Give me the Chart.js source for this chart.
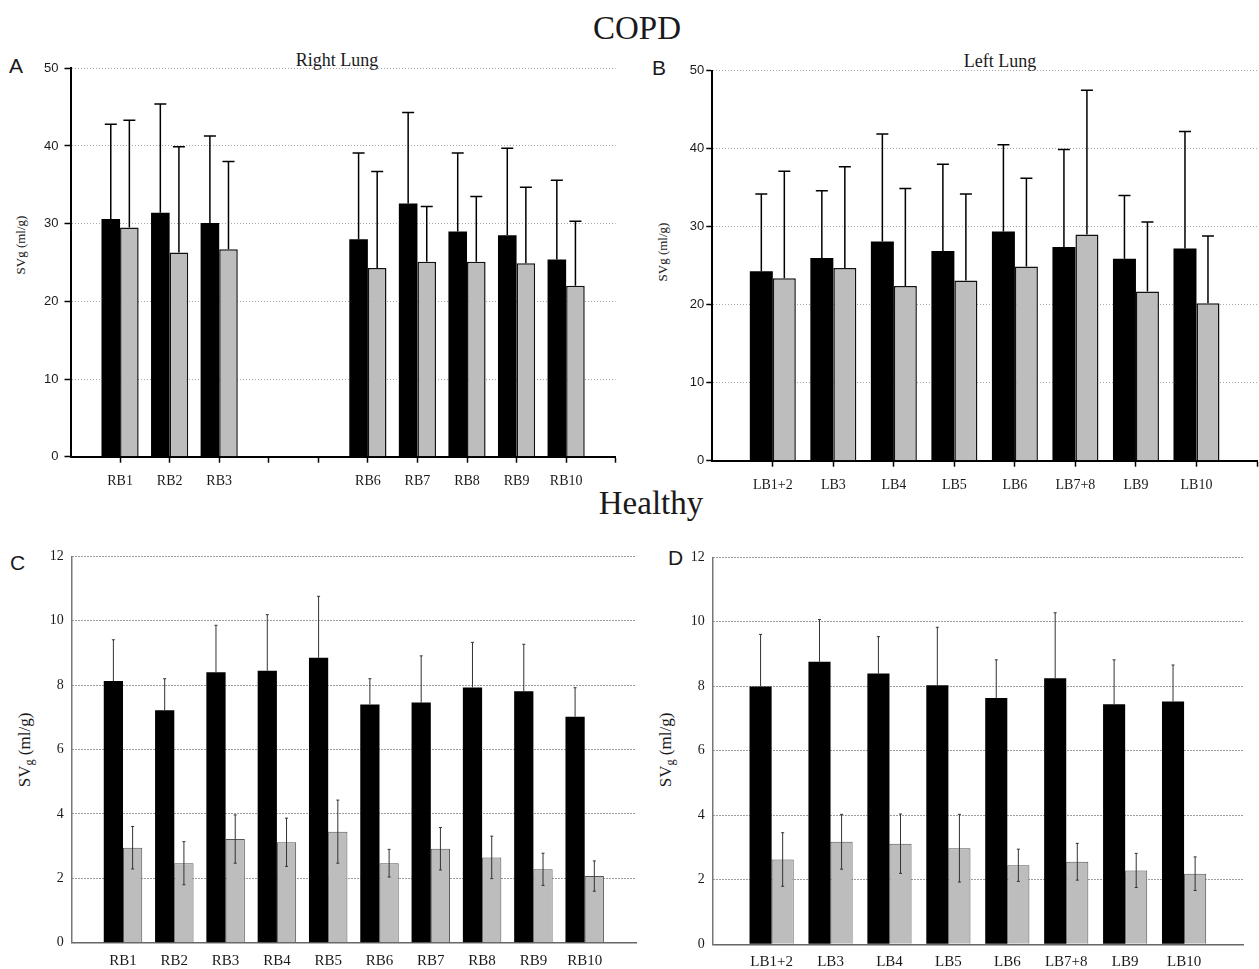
<!DOCTYPE html>
<html lang="en">
<head>
  <meta charset="UTF-8" />
  <title>SVg per bronchus - COPD and Healthy</title>
  <script src="https://cdn.jsdelivr.net/npm/chart.js"></script>
  <style>
    body { margin: 0; background: #fff; width: 1259px; height: 969px; position: relative; overflow: hidden;
           font-family: "Liberation Serif", serif; color: #1a1a1a; }
    canvas { position: absolute; }
    .t { position: absolute; line-height: 1; white-space: nowrap; }
    .big { font-size: 33px; transform: translateX(-50%); }
    .sub { font-size: 18px; transform: translateX(-50%); }
    .let { font-family: "Liberation Sans", sans-serif; font-size: 21px; }
    .ytitle { position: absolute; white-space: nowrap; line-height: 1; transform: translate(-50%, -50%) rotate(-90deg); }
    .ytitle sub { font-size: 72%; vertical-align: -0.3em; line-height: 0; }
  </style>
</head>
<body>
  <div class="t big" style="left:637px; top:12px;">COPD</div>
  <div class="t big" style="left:651px; top:487px;">Healthy</div>
  <div class="t sub" style="left:337px; top:51px;">Right Lung</div>
  <div class="t sub" style="left:1000px; top:52px;">Left Lung</div>
  <div class="t let" style="left:9px; top:55px;">A</div>
  <div class="t let" style="left:652px; top:57px;">B</div>
  <div class="t let" style="left:10px; top:552px;">C</div>
  <div class="t let" style="left:668px; top:547px;">D</div>
  <div class="ytitle" style="left:20px; top:245px; font-size:13px;">SVg (ml/g)</div>
  <div class="ytitle" style="left:662px; top:252px; font-size:13px;">SVg (ml/g)</div>
  <div class="ytitle" style="left:24px; top:750px; font-size:17px;">SV<sub>g</sub> (ml/g)</div>
  <div class="ytitle" style="left:665px; top:750px; font-size:17px;">SV<sub>g</sub> (ml/g)</div>

  <canvas id="panelA" width="630" height="450" style="left:0px; top:50px;"></canvas>
  <canvas id="panelB" width="627" height="450" style="left:640px; top:50px;"></canvas>
  <canvas id="panelC" width="640" height="429" style="left:0px; top:540px;"></canvas>
  <canvas id="panelD" width="619" height="429" style="left:640px; top:540px;"></canvas>

  <script>
    // segment names
    const rightLabels = ['RB1', 'RB2', 'RB3', 'RB4', 'RB5', 'RB6', 'RB7', 'RB8', 'RB9', 'RB10'];
    const copdRightLabels = ['RB1', 'RB2', 'RB3', '', '', 'RB6', 'RB7', 'RB8', 'RB9', 'RB10'];
    const leftLabels = ['LB1+2', 'LB3', 'LB4', 'LB5', 'LB6', 'LB7+8', 'LB9', 'LB10'];

    // A - COPD, right lung (RB4, RB5 not shown)
    const copdRightBlack   = [30.6, 31.4, 30.1, null, null, 28.0, 32.6, 29.0, 28.5, 25.4];
    const copdRightBlackSD = [12.2, 14.0, 11.2, null, null, 11.1, 11.7, 10.1, 11.2, 10.2];
    const copdRightGrey    = [29.5, 26.3, 26.7, null, null, 24.3, 25.1, 25.1, 24.9, 22.0];
    const copdRightGreySD  = [13.8, 13.6, 11.3, null, null, 12.4, 7.1, 8.4, 9.8, 8.3];

    // B - COPD, left lung
    const copdLeftBlack   = [24.3, 26.0, 28.1, 26.9, 29.4, 27.4, 25.9, 27.2];
    const copdLeftBlackSD = [9.9, 8.6, 13.8, 11.1, 11.1, 12.5, 8.1, 15.0];
    const copdLeftGrey    = [23.4, 24.7, 22.4, 23.1, 24.9, 29.0, 21.7, 20.2];
    const copdLeftGreySD  = [13.7, 13.0, 12.5, 11.1, 11.3, 18.5, 8.9, 8.6];

    // C - Healthy, right lung
    const healthyRightBlack   = [8.13, 7.22, 8.40, 8.45, 8.85, 7.40, 7.46, 7.93, 7.81, 7.02];
    const healthyRightBlackSD = [1.28, 0.98, 1.46, 1.74, 1.91, 0.80, 1.45, 1.40, 1.46, 0.90];
    const healthyRightGrey    = [2.95, 2.47, 3.22, 3.12, 3.45, 2.47, 2.92, 2.65, 2.28, 2.07];
    const healthyRightGreySD  = [0.66, 0.67, 0.75, 0.75, 0.98, 0.43, 0.66, 0.66, 0.50, 0.47];

    // D - Healthy, left lung
    const healthyLeftBlack   = [7.99, 8.76, 8.40, 8.03, 7.64, 8.25, 7.44, 7.53];
    const healthyLeftBlackSD = [1.62, 1.31, 1.14, 1.80, 1.18, 2.03, 1.38, 1.13];
    const healthyLeftGrey    = [2.63, 3.18, 3.12, 2.98, 2.45, 2.56, 2.29, 2.19];
    const healthyLeftGreySD  = [0.83, 0.85, 0.92, 1.05, 0.50, 0.57, 0.53, 0.52];

    // draws the SD whiskers on top of the bars
    const errorBars = {
      id: 'errorBars',
      afterDatasetsDraw(chart, args, opts) {
        const ctx = chart.ctx;
        const yScale = chart.scales.y;
        chart.data.datasets.forEach((ds, di) => {
          if (!ds.errors) return;
          const meta = chart.getDatasetMeta(di);
          const both = ds.errorsBoth;
          ctx.save();
          ctx.strokeStyle = opts.color;
          ctx.lineWidth = opts.width;
          meta.data.forEach((bar, i) => {
            const v = ds.data[i].y;
            const e = ds.errors[i];
            if (v == null || e == null) return;
            const x = bar.x;
            const yTop = yScale.getPixelForValue(v + e);
            const yBot = yScale.getPixelForValue(both ? v - e : v);
            ctx.beginPath();
            ctx.moveTo(x, yBot);
            ctx.lineTo(x, yTop);
            ctx.moveTo(x - opts.cap, yTop);
            ctx.lineTo(x + opts.cap, yTop);
            if (both) {
              ctx.moveTo(x - opts.cap, yBot);
              ctx.lineTo(x + opts.cap, yBot);
            }
            ctx.stroke();
          });
          ctx.restore();
        });
      }
    };

    function makePanel(canvasId, p) {
      const copd = p.copd;
      const toPts = arr => arr.map((y, i) => ({ x: i + 1, y }));
      new Chart(document.getElementById(canvasId), {
        type: 'bar',
        data: {
          datasets: [
            { data: toPts(p.black), errors: p.blackSD, errorsBoth: false, backgroundColor: '#000', borderWidth: 0 },
            { data: toPts(p.grey), errors: p.greySD, errorsBoth: !copd, backgroundColor: '#bdbdbd',
              borderColor: copd ? '#111' : '#555', borderWidth: copd ? 1.5 : 1 }
          ]
        },
        options: {
          responsive: false,
          animation: false,
          devicePixelRatio: 1,
          layout: { padding: { left: 0, top: p.padTop, right: p.padRight, bottom: 0 } },
          datasets: { bar: { categoryPercentage: p.catPct, barPercentage: 1 } },
          plugins: {
            legend: { display: false },
            tooltip: { enabled: false },
            errorBars: copd ? { color: '#000', width: 1.5, cap: 6 } : { color: '#333', width: 1, cap: 1.5 }
          },
          scales: {
            x: {
              type: 'linear', min: 0, max: p.xMax, offset: false, z: 1,
              afterBuildTicks: s => { s.ticks = p.tickPos.map(v => ({ value: v })); },
              afterFit: s => { s.height = p.xHeight; },
              grid: copd
                ? { display: true, offset: false, drawOnChartArea: false, drawTicks: true, tickLength: 6, tickColor: '#000', tickWidth: 1.5 }
                : { display: false, offset: false, drawTicks: false },
              border: { display: true, color: copd ? '#000' : '#666', width: copd ? 2 : 1.5 },
              ticks: {
                autoSkip: false, maxRotation: 0, padding: p.xPad, color: '#1a1a1a',
                font: { family: 'Liberation Serif', size: copd ? 14 : 15 },
                callback: v => p.labels[v - 1] ?? ''
              }
            },
            y: {
              min: 0, max: p.yMax,
              afterFit: s => { s.width = p.yWidth; },
              ticks: {
                stepSize: p.yStep, padding: p.yPad, color: '#1a1a1a',
                font: copd ? { family: 'Liberation Sans', size: 13 } : { family: 'Liberation Serif', size: 14 }
              },
              grid: {
                color: c => c.tick && c.tick.value === 0 ? 'rgba(0,0,0,0)' : (copd ? '#a8a8a8' : '#3a3a3a'),
                lineWidth: 1, drawTicks: copd, tickLength: 6, tickColor: '#000', tickWidth: 1.5
              },
              border: { display: true, color: copd ? '#000' : '#777', width: copd ? 2 : 1.5, dash: [1, 2] }
            }
          }
        },
        plugins: [errorBars]
      });
    }

    makePanel('panelA', {
      copd: true, labels: copdRightLabels,
      black: copdRightBlack, blackSD: copdRightBlackSD, grey: copdRightGrey, greySD: copdRightGreySD,
      xMax: 11, tickPos: [1, 2, 3, 4, 5, 6, 7, 8, 9, 10, 11], catPct: 0.75,
      yMax: 50, yStep: 10, yWidth: 70.5, yPad: 6, xHeight: 43.3, xPad: 10, padTop: 18.3, padRight: 14.3
    });
    makePanel('panelB', {
      copd: true, labels: leftLabels,
      black: copdLeftBlack, blackSD: copdLeftBlackSD, grey: copdLeftGrey, greySD: copdLeftGreySD,
      xMax: 9, tickPos: [1, 2, 3, 4, 5, 6, 7, 8, 9], catPct: 0.76,
      yMax: 50, yStep: 10, yWidth: 72.3, yPad: 2, xHeight: 39.3, xPad: 10, padTop: 20.7, padRight: 2
    });
    makePanel('panelC', {
      copd: false, labels: rightLabels,
      black: healthyRightBlack, blackSD: healthyRightBlackSD, grey: healthyRightGrey, greySD: healthyRightGreySD,
      xMax: 11, tickPos: [1, 2, 3, 4, 5, 6, 7, 8, 9, 10], catPct: 0.75,
      yMax: 12, yStep: 2, yWidth: 71.7, yPad: 8, xHeight: 26.3, xPad: 9, padTop: 14, padRight: 4
    });
    makePanel('panelD', {
      copd: false, labels: leftLabels,
      black: healthyLeftBlack, blackSD: healthyLeftBlackSD, grey: healthyLeftGrey, greySD: healthyLeftGreySD,
      xMax: 9, tickPos: [1, 2, 3, 4, 5, 6, 7, 8], catPct: 0.75,
      yMax: 12, yStep: 2, yWidth: 72.7, yPad: 8, xHeight: 24.7, xPad: 9, padTop: 17.3, padRight: 16
    });
  </script>
</body>
</html>
